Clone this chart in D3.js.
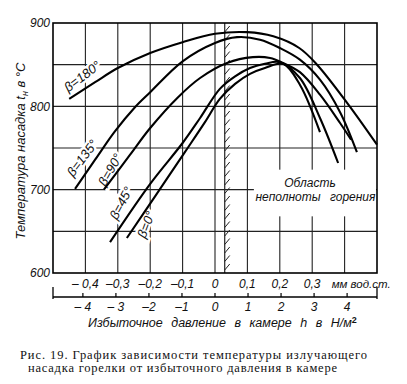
<!DOCTYPE html>
<html>
<head>
<meta charset="utf-8">
<script src="https://cdn.jsdelivr.net/npm/d3@7"></script>
<style>
body{margin:0;background:#fff}
svg{display:block}
text{font-family:"Liberation Sans",Arial,sans-serif;font-style:italic;fill:#111}
.caption{font-family:"Liberation Serif","DejaVu Serif",serif;font-style:normal}
</style>
</head>
<body>
<svg id="chart" width="407" height="384"></svg>
<script>
// excess pressure in mm water column -> nozzle temperature, °C
var beta180 = [[-0.45,809],[-0.37,829],[-0.30,846],[-0.20,864],[-0.10,877],[0.0,887],[0.10,889],[0.18,884],[0.26,870],[0.315,850],[0.41,803],[0.50,754]];
var beta135 = [[-0.432,701],[-0.37,736],[-0.309,770],[-0.247,799],[-0.20,817],[-0.10,854],[0.0,876],[0.068,883],[0.139,880],[0.20,870],[0.262,856],[0.324,832],[0.386,793],[0.438,745]];
var beta90 = [[-0.343,700],[-0.262,742],[-0.20,774],[-0.114,811],[-0.046,834],[0.037,852],[0.117,859],[0.17,858],[0.21,852],[0.262,841],[0.324,814],[0.386,780],[0.42,760]];
var beta45 = [[-0.324,637],[-0.20,707],[-0.10,756],[-0.046,786],[0.015,821],[0.062,836],[0.108,846],[0.154,851],[0.20,853],[0.262,834],[0.324,786],[0.38,732]];
var beta0 = [[-0.272,642],[-0.185,692],[-0.093,745],[-0.031,781],[0.015,809],[0.062,827],[0.108,839],[0.154,846],[0.21,851],[0.262,826],[0.324,769]];

var seriesNames = ["β=180°","β=135°","β=90°","β=45°","β=0°"];
var seriesData = [beta180, beta135, beta90, beta45, beta0];

var mmTicks = [-0.4,-0.3,-0.2,-0.1,0,0.1,0.2,0.3];
var mmLabels = ["– 0,4","–0,3","–0,2","–0,1","0","0,1","0,2","0,3"];
var paTicks = [-4,-3,-2,-1,0,1,2,3,4];
var paLabels = ["– 4","– 3","–2","–1","0","1","2","3","4"];
var tempTicks = [600,700,800,900];
var gridX = [-0.4,-0.3,-0.2,-0.1,0,0.1,0.2,0.3,0.4];
var gridY = [650,700,750,800,850];
var boundary = 0.03; // hatched line
var MM_TO_PA = 9.81;

var svg = d3.select("#chart");
var x = d3.scaleLinear().domain([-0.5,0.5]).range([53,377]);
var y = d3.scaleLinear().domain([600,900]).range([273,23]);
var xPa = d3.scaleLinear().domain([-0.5*MM_TO_PA,0.5*MM_TO_PA]).range([53,377]);

// grid
svg.append("g").selectAll("line").data(gridX).enter().append("line")
    .attr("x1",d=>x(d)).attr("x2",d=>x(d)).attr("y1",y(900)).attr("y2",y(600))
    .attr("stroke","#222").attr("stroke-width",1.1);
svg.append("g").selectAll("line").data(gridY).enter().append("line")
    .attr("x1",x(-0.5)).attr("x2",x(0.5)).attr("y1",d=>y(d)).attr("y2",d=>y(d))
    .attr("stroke","#222").attr("stroke-width",1.1);

// cleared area for the note
svg.append("rect").attr("x",x(0.12)).attr("y",y(724)).attr("width",x(0.497)-x(0.12)).attr("height",y(668)-y(724))
    .attr("fill","#fff");
svg.append("text").attr("x",x(0.293)).attr("y",y(703)).attr("text-anchor","middle")
    .style("font-size","12px").text("Область");
svg.append("text").attr("x",x(0.31)).attr("y",y(687)).attr("text-anchor","middle")
    .style("font-size","12px").style("word-spacing","6px").text("неполноты горения");

// curve labels with white halo that cuts the grid
var labelPos = [[-0.41,836,-37],[-0.41,738,-53],[-0.324,724,-60],[-0.29,684,-62],[-0.213,658,-69]];
svg.append("g").selectAll("text").data(seriesNames).enter().append("text")
    .attr("transform",(d,i)=>"translate("+x(labelPos[i][0])+","+y(labelPos[i][1])+") rotate("+labelPos[i][2]+")")
    .attr("text-anchor","middle").attr("dy","0.35em")
    .style("font-size","13px")
    .style("paint-order","stroke").attr("stroke","#fff").attr("stroke-width",5)
    .text(d=>d);

// hatched boundary
var xb = x(boundary);
svg.append("line").attr("x1",xb).attr("x2",xb).attr("y1",y(900)).attr("y2",y(600))
    .attr("stroke","#222").attr("stroke-width",1.2);
svg.append("g").selectAll("line").data(d3.range(y(900)+4,y(600),8.5)).enter().append("line")
    .attr("x1",xb).attr("y1",d=>d+5).attr("x2",xb+5).attr("y2",d=>d-1)
    .attr("stroke","#222").attr("stroke-width",1);

// curves
var line = d3.line().x(d=>x(d[0])).y(d=>y(d[1])).curve(d3.curveCatmullRom.alpha(0.5));
svg.append("g").selectAll("path").data(seriesData).enter().append("path")
    .attr("d",line).attr("fill","none").attr("stroke","#000").attr("stroke-width",2.1);

// frame
svg.append("rect").attr("x",x(-0.5)).attr("y",y(900)).attr("width",x(0.5)-x(-0.5)).attr("height",y(600)-y(900))
    .attr("fill","none").attr("stroke","#000").attr("stroke-width",1.6);

// y ticks
svg.append("g").selectAll("text").data(tempTicks).enter().append("text")
    .attr("x",50).attr("y",d=>y(d)).attr("dy","0.35em").attr("text-anchor","end")
    .style("font-size","12px").text(d=>d);

// y title
var yt = svg.append("text").attr("transform","translate(25,151) rotate(-90)").attr("text-anchor","middle")
    .style("font-size","13px");
yt.append("tspan").text("Температура  насадка   t");
yt.append("tspan").attr("dy",3).style("font-size","9px").text("н");
yt.append("tspan").attr("dy",-3).text("  в  °C");

// mm axis labels
svg.append("g").selectAll("text").data(mmTicks).enter().append("text")
    .attr("x",d=>x(d)).attr("y",288).attr("text-anchor","middle")
    .style("font-size","12px").text((d,i)=>mmLabels[i]);
svg.append("text").attr("x",x(0.36)).attr("y",288).style("font-size","11.5px").text("мм вод.ст.");

// N/m² axis
svg.append("line").attr("x1",xPa.range()[0]).attr("x2",xPa.range()[1]).attr("y1",297).attr("y2",297)
    .attr("stroke","#000").attr("stroke-width",1.4);
svg.append("g").selectAll("line").data(paTicks).enter().append("line")
    .attr("x1",d=>xPa(d)).attr("x2",d=>xPa(d)).attr("y1",297).attr("y2",293)
    .attr("stroke","#000").attr("stroke-width",1.2);
svg.append("g").selectAll("line").data(xPa.range()).enter().append("line")
    .attr("x1",d=>d).attr("x2",d=>d).attr("y1",287).attr("y2",299)
    .attr("stroke","#000").attr("stroke-width",1.3);
svg.append("g").selectAll("text").data(paTicks).enter().append("text")
    .attr("x",d=>xPa(d)).attr("y",311).attr("text-anchor","middle")
    .style("font-size","12px").text((d,i)=>paLabels[i]);

var xt = svg.append("text").attr("x",88).attr("y",327).style("font-size","12.5px").style("word-spacing","5px");
xt.append("tspan").text("Избыточное давление в камере h в Н/м");
xt.append("tspan").attr("dy",-4).style("font-size","9px").style("font-style","normal").style("font-weight","bold").text("2");

// caption
svg.append("text").attr("class","caption").attr("x",20).attr("y",359)
    .attr("textLength",347).attr("lengthAdjust","spacing").style("font-size","12.5px")
    .text("Рис. 19. График зависимости температуры излучающего");
svg.append("text").attr("class","caption").attr("x",28).attr("y",372)
    .attr("textLength",309).attr("lengthAdjust","spacing").style("font-size","12.5px")
    .text("насадка горелки от избыточного давления в камере");
</script>
</body>
</html>
